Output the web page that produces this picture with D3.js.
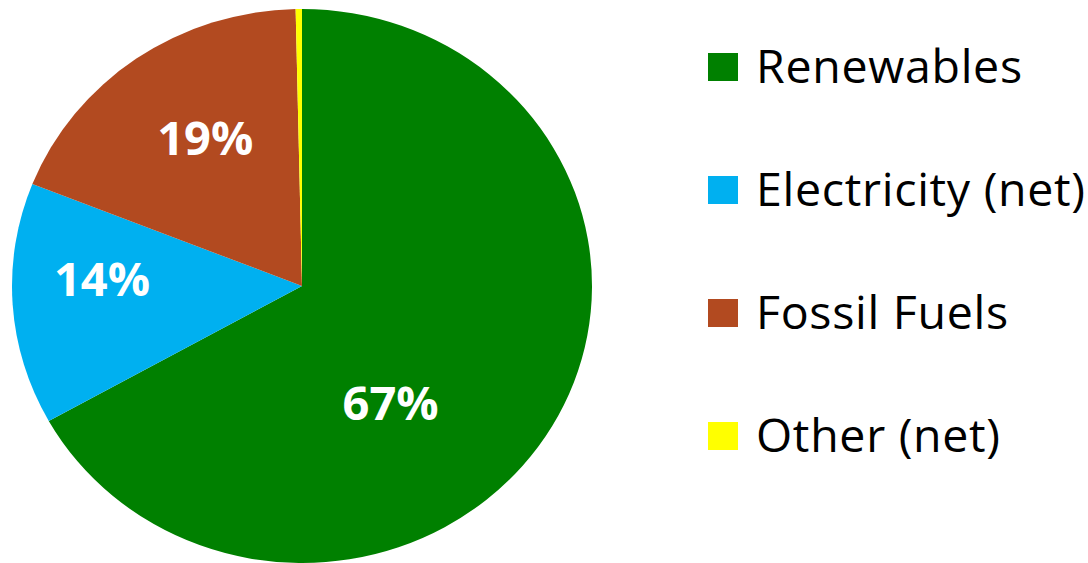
<!DOCTYPE html>
<html><head><meta charset="utf-8">
<script src="https://cdn.jsdelivr.net/npm/d3@7"></script>
<style>html,body{margin:0;padding:0;background:#fff;}svg{display:block;}</style>
</head><body>
<svg id="chart" width="1088" height="563"></svg>
<script>
// ---- data ----
const categories = ["Renewables", "Electricity (net)", "Fossil Fuels", "Other (net)"];
const values = [66.9, 14.1, 18.65, 0.35];
const labels = ["67%", "14%", "19%", ""];
const colors = ["#008000", "#00B0F0", "#B24A20", "#FFFF00"];

// ---- layout ----
const W = 1088, H = 563;
const cx = 302, cy = 286, ry = 277, sx = 290 / 277;
// label placement (angle in degrees clockwise from top, radius fraction)
const labelPlace = [[144, 0.52], [272, 0.69], [328, 0.63], null];
const fontFam = "'Open Sans', Lato, 'DejaVu Sans', sans-serif";

const svg = d3.select("#chart");
const pie = d3.pie().sort(null).value(d => d)(values);
const arc = d3.arc().innerRadius(0).outerRadius(ry);

const g = svg.append("g").attr("transform", `translate(${cx},${cy}) scale(${sx},1)`);
g.selectAll("path").data(pie).enter().append("path")
  .attr("d", arc).attr("fill", (d, i) => colors[i]);

const lg = svg.append("g").attr("transform", `translate(${cx},${cy})`);
pie.forEach((d, i) => {
  if (!labels[i]) return;
  let x, y;
  const p = labelPlace[i];
  if (p) {
    const a = p[0] * Math.PI / 180, r = p[1] * ry;
    x = Math.sin(a) * r * sx; y = -Math.cos(a) * r;
  } else {
    const c = d3.arc().innerRadius(0).outerRadius(ry * 1.2).centroid(d);
    x = c[0] * sx; y = c[1];
  }
  lg.append("text").attr("x", x).attr("y", y + 17)
    .attr("text-anchor", "middle")
    .attr("fill", "#fff").attr("font-family", fontFam).attr("font-weight", "bold")
    .attr("font-size", 47).text(labels[i]);
});

// legend
const leg = svg.append("g").attr("transform", "translate(708,53)");
const rowH = 123;
categories.forEach((c, i) => {
  const row = leg.append("g").attr("transform", `translate(0,${i * rowH})`);
  row.append("rect").attr("width", 30).attr("height", 28).attr("fill", colors[i]);
  row.append("text").attr("x", 48).attr("y", 30)
    .attr("font-family", fontFam).attr("font-size", 46.5).attr("letter-spacing", 0.7)
    .attr("fill", "#000")
    .text(c);
});
</script>
</body></html>
